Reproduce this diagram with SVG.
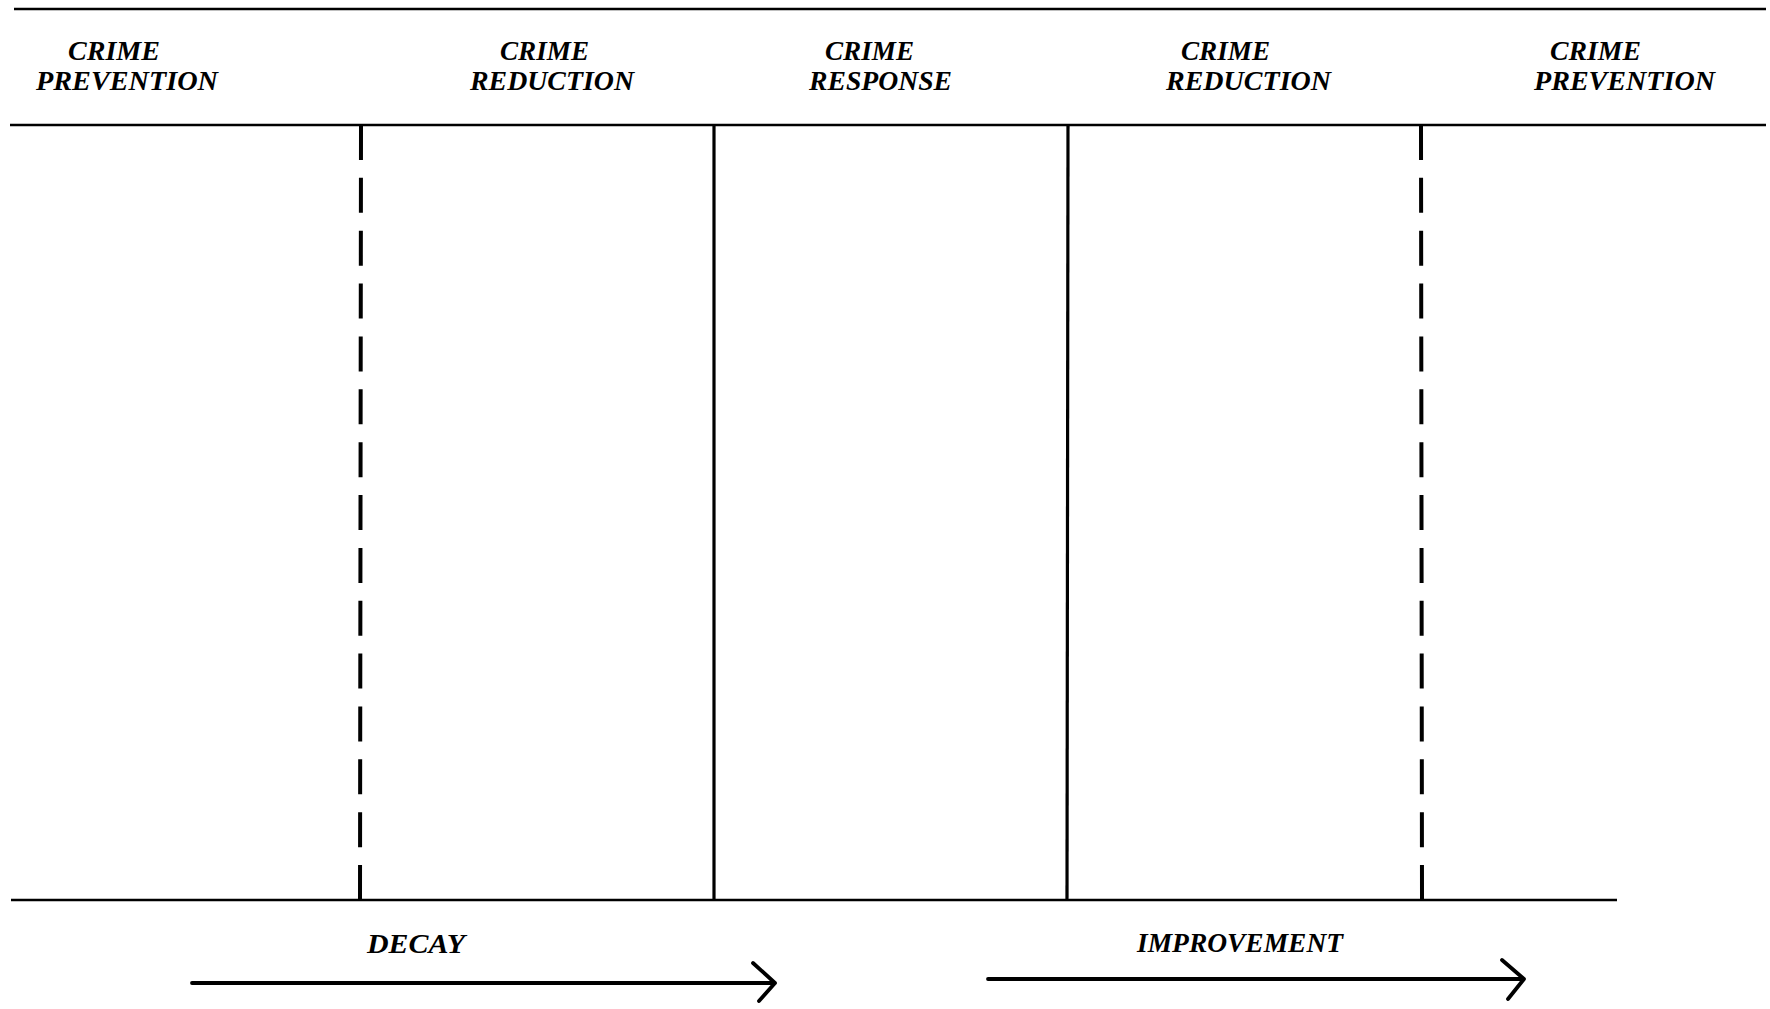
<svg xmlns="http://www.w3.org/2000/svg" width="1770" height="1009" viewBox="0 0 1770 1009">
<style>
.lbl{font-family:"Liberation Serif","DejaVu Serif",serif;font-weight:bold;font-style:italic;font-size:27px;fill:#000}
.rule{stroke:#000;stroke-width:2.6;fill:none}
.solid{stroke:#000;stroke-width:3.2;fill:none}
.dash{stroke:#000;stroke-width:4;fill:none;stroke-dasharray:35 17.86}
.arrow{stroke:#000;stroke-width:3.8;fill:none;stroke-linecap:round;stroke-linejoin:round}
</style>
<rect width="1770" height="1009" fill="#fff"/>
<g id="frame">
<line class="rule" x1="14" y1="9" x2="1766" y2="9"/>
<line class="rule" x1="10" y1="125" x2="1766" y2="125"/>
<line class="rule" x1="11" y1="900" x2="1617" y2="900"/>
</g>
<g id="headers">
<g id="h1"><text class="lbl" x="68" y="60" textLength="92" lengthAdjust="spacingAndGlyphs">CRIME</text><text class="lbl" x="36" y="90" textLength="182" lengthAdjust="spacingAndGlyphs">PREVENTION</text></g>
<g id="h2"><text class="lbl" x="500" y="60" textLength="89" lengthAdjust="spacingAndGlyphs">CRIME</text><text class="lbl" x="470" y="90" textLength="164" lengthAdjust="spacingAndGlyphs">REDUCTION</text></g>
<g id="h3"><text class="lbl" x="825" y="60" textLength="89" lengthAdjust="spacingAndGlyphs">CRIME</text><text class="lbl" x="809" y="90" textLength="143" lengthAdjust="spacingAndGlyphs">RESPONSE</text></g>
<g id="h4"><text class="lbl" x="1181" y="60" textLength="89" lengthAdjust="spacingAndGlyphs">CRIME</text><text class="lbl" x="1166" y="90" textLength="165" lengthAdjust="spacingAndGlyphs">REDUCTION</text></g>
<g id="h5"><text class="lbl" x="1550" y="60" textLength="91" lengthAdjust="spacingAndGlyphs">CRIME</text><text class="lbl" x="1534" y="90" textLength="181" lengthAdjust="spacingAndGlyphs">PREVENTION</text></g>
</g>
<g id="dividers">
<line class="dash" x1="361" y1="125" x2="360" y2="900"/>
<line class="solid" x1="714" y1="125" x2="714" y2="900"/>
<line class="solid" x1="1068" y1="125" x2="1067" y2="900"/>
<line class="dash" x1="1421" y1="125" x2="1422" y2="900"/>
</g>
<g id="decay">
<text class="lbl" x="367" y="953" textLength="98" lengthAdjust="spacingAndGlyphs">DECAY</text>
<path class="arrow" d="M192 983 L775 983 M753 963 L775 983 L759 1001"/>
</g>
<g id="improvement">
<text class="lbl" x="1137" y="952" textLength="206" lengthAdjust="spacingAndGlyphs">IMPROVEMENT</text>
<path class="arrow" d="M988 979 L1524 979 M1502 960 L1524 979 L1508 999"/>
</g>
</svg>
